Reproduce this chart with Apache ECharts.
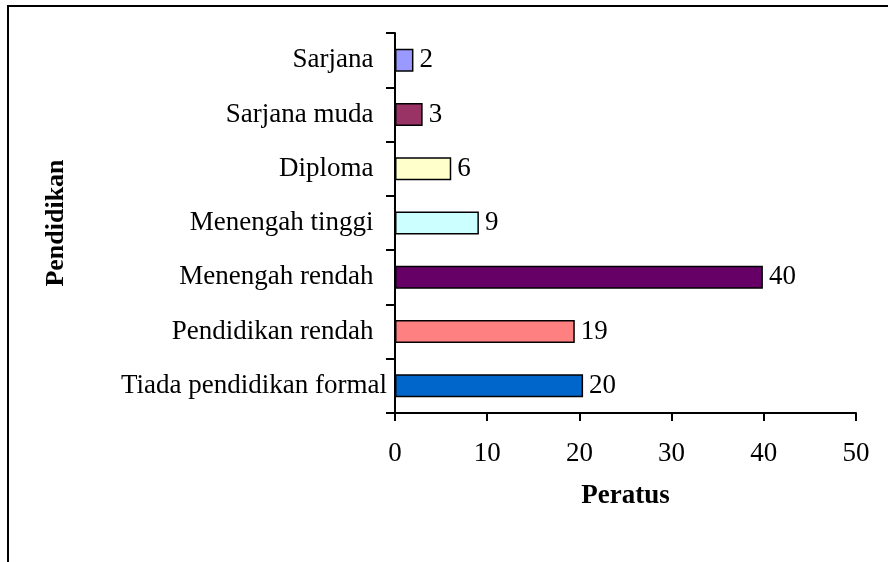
<!DOCTYPE html>
<html>
<head>
<meta charset="utf-8">
<script src="https://cdn.jsdelivr.net/npm/echarts@6/dist/echarts.min.js"></script>
<style>
html, body { margin: 0; padding: 0; background: #fff; }
#container { width: 888px; height: 562px; }
</style>
</head>
<body>
<div id="container"></div>
<script>
// data, listed bottom to top as the category axis draws it
var categories = ['Tiada pendidikan formal', 'Pendidikan rendah', 'Menengah rendah',
    'Menengah tinggi', 'Diploma', 'Sarjana muda', 'Sarjana'];
var values = [20.4, 19.5, 39.9, 9.1, 6.1, 3, 2];
var valueLabels = ['20', '19', '40', '9', '6', '3', '2'];
var barColors = ['#0066CC', '#FF8080', '#660066', '#CCFFFF', '#FFFFCC', '#993366', '#9999FF'];
var xTicks = [0, 10, 20, 30, 40, 50];

var fontFamily = '"Liberation Serif", "Times New Roman", serif';

var seriesData = values.map(function (v, i) {
    return {
        value: v,
        itemStyle: { color: barColors[i] },
        label: { formatter: valueLabels[i] }
    };
});

var option = {
    animation: false,
    backgroundColor: '#fff',
    textStyle: { fontFamily: fontFamily },
    graphic: [{
        type: 'rect',
        shape: { x: 8, y: 6, width: 1000, height: 700 },
        style: { fill: 'none', stroke: '#000', lineWidth: 2 },
        silent: true
    }],
    grid: {
        left: 395,
        right: 32,
        top: 33,
        bottom: 149
    },
    xAxis: {
        type: 'value',
        min: xTicks[0],
        max: xTicks[xTicks.length - 1],
        interval: 10,
        name: 'Peratus',
        nameLocation: 'middle',
        nameGap: 70,
        nameTextStyle: { fontFamily: fontFamily, fontSize: 27, fontWeight: 'bold', color: '#000' },
        axisLine: { show: true, lineStyle: { color: '#000', width: 2 } },
        axisTick: { show: true, inside: false, length: 8, lineStyle: { color: '#000', width: 2 } },
        axisLabel: { color: '#000', fontSize: 27, fontFamily: fontFamily, margin: 27 },
        splitLine: { show: false }
    },
    yAxis: {
        type: 'category',
        data: categories,
        name: 'Pendidikan',
        nameLocation: 'middle',
        nameGap: 326,
        nameRotate: 90,
        nameTextStyle: { fontFamily: fontFamily, fontSize: 26, fontWeight: 'bold', color: '#000' },
        axisLine: { show: true, lineStyle: { color: '#000', width: 2 } },
        axisTick: { show: true, inside: false, length: 9, alignWithLabel: false, lineStyle: { color: '#000', width: 2 } },
        axisLabel: {
            color: '#000', fontSize: 27, fontFamily: fontFamily, margin: 8,
            // the source labels carry trailing blanks, except the bottom one
            formatter: function (v, i) { return i === 0 ? v : v + '  '; }
        },
        splitLine: { show: false }
    },
    series: [{
        type: 'bar',
        data: seriesData,
        barWidth: 23,
        itemStyle: { borderColor: '#000', borderWidth: 1.5 },
        label: {
            show: true,
            position: 'right',
            distance: 6,
            color: '#000',
            fontSize: 27,
            fontFamily: fontFamily
        }
    }]
};

var myChart = echarts.init(document.getElementById('container'));
myChart.setOption(option);
</script>
</body>
</html>
